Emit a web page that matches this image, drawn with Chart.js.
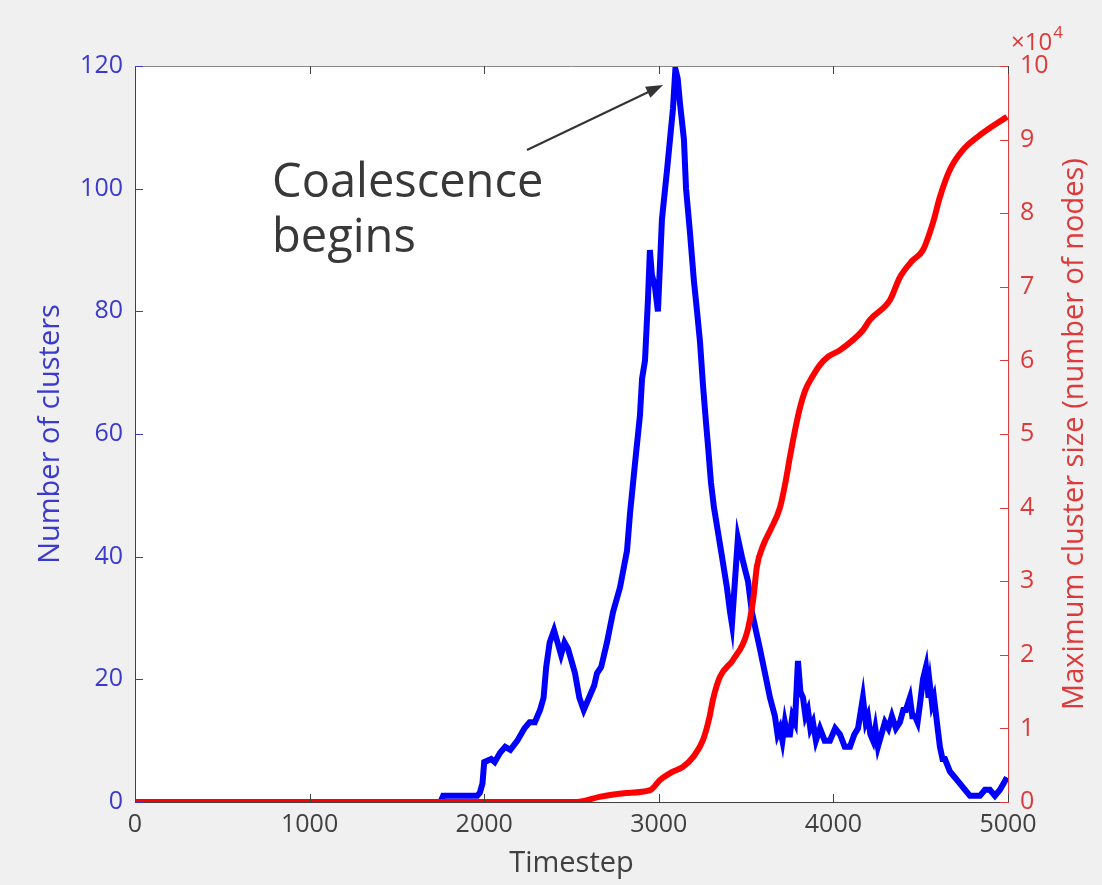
<!DOCTYPE html>
<html>
<head>
<meta charset="utf-8">
<script src="https://cdn.jsdelivr.net/npm/chart.js@4"></script>
<style>
  html, body { margin: 0; padding: 0; background: #f0f0f0; }
  #wrap { width: 1102px; height: 885px; }
</style>
</head>
<body>
<div id="wrap"><canvas id="grafico" width="1102" height="885"></canvas></div>
<script>
// numero de clusters (eje izquierdo)
const blueSteps = [0, 1750, 1765, 1960, 1975, 1990, 2000, 2040, 2060, 2090, 2120, 2150, 2190, 2230, 2260, 2290,
  2320, 2340, 2355, 2375, 2400, 2420, 2440, 2460, 2480, 2500, 2520, 2545, 2570, 2600, 2630, 2646, 2670, 2703,
  2738, 2778, 2818, 2835, 2863, 2892, 2904, 2921, 2938, 2949, 2960, 2978, 2995, 3018, 3047, 3064, 3081, 3095,
  3108, 3121, 3144, 3156, 3178, 3201, 3219, 3236, 3253, 3270, 3282, 3299, 3316, 3339, 3362, 3390, 3408, 3419,
  3436, 3453, 3476, 3493, 3511, 3533, 3556, 3579, 3608, 3637, 3665, 3680, 3694, 3708, 3722, 3736, 3751, 3765,
  3780, 3797, 3811, 3826, 3840, 3854, 3868, 3883, 3900, 3923, 3950, 3980, 4010, 4038, 4065, 4095, 4120, 4141,
  4169, 4185, 4198, 4212, 4227, 4240, 4255, 4275, 4295, 4315, 4335, 4358, 4381, 4400, 4415, 4438, 4452, 4467,
  4482, 4496, 4513, 4530, 4545, 4553, 4565, 4576, 4593, 4610, 4625, 4639, 4667, 4696, 4725, 4753, 4782, 4810,
  4839, 4868, 4896, 4925, 4954, 4994];
const blueClusters = [0, 0, 1, 1, 1.5, 3, 6.5, 7, 6.5, 8, 9, 8.5, 10, 12, 13, 13,
  15, 17, 22, 26, 28, 26, 24, 26, 25, 23, 21, 17, 15, 17, 19, 21, 22, 26,
  31, 35, 41, 47, 55, 63, 69, 72, 82, 90, 86, 84, 80, 95, 103, 108, 113, 119.5,
  118, 114, 108, 100, 93, 85, 80, 75, 68, 62, 58, 52, 48, 44, 40, 35, 31, 29,
  36, 43, 40, 38, 36, 31, 28, 25, 21, 17, 14, 11, 12, 10, 13, 11, 11, 14,
  13, 23, 18, 17, 14, 15, 12, 13, 10, 12, 10, 10, 12, 11, 9, 9, 11, 12,
  17, 13, 14, 11, 10, 12, 9, 11, 13, 12, 14, 12, 13, 15, 15, 17, 14, 14,
  13, 16, 20, 22, 17, 19, 16, 17, 13, 9, 7, 7, 5, 4, 3, 2, 1, 1,
  1, 2, 2, 1, 2, 4];

// tamano maximo de cluster (eje derecho, nodos)
const redSteps = [0, 2530, 2660, 2800, 2950, 3007, 3070, 3140, 3196, 3253, 3290, 3310, 3350, 3425, 3505, 3540,
  3562, 3600, 3640, 3694, 3722, 3752, 3780, 3810, 3840, 3880, 3920, 3970, 4038, 4169, 4209, 4324, 4381, 4450,
  4513, 4570, 4610, 4667, 4742, 4856, 4994];
const redSize = [0, 0, 700, 1200, 1600, 3000, 4000, 4800, 6100, 8400, 11500, 13900, 17000, 19300, 23000, 27400,
  32000, 35000, 37000, 40000, 43000, 47000, 50500, 53700, 56000, 57800, 59300, 60500, 61400, 64100, 65500, 68200, 71300, 73500,
  75000, 78700, 82200, 85900, 88600, 90900, 93100];

const xTicks = [0, 1000, 2000, 3000, 4000, 5000];
const leftTicks = [0, 20, 40, 60, 80, 100, 120];
const rightTicks = [0, 1, 2, 3, 4, 5, 6, 7, 8, 9, 10]; // x10^4

// anotacion (en unidades de datos)
const notaTexto = ['Coalescence', 'begins'];
const notaPos = { x: 785, y1: 98.6, y2: 89.7 };
const flecha = { x0: 2245, y0: 106.3, x1: 3024, y1: 116.9 };

const azul = '#0000ff';
const rojo = '#ff0000';
const azulTexto = '#3a3ad0';
const rojoTexto = '#dd3b3b';
const gris = '#404040';
const fuente = 'Open Sans';

const datosAzul = blueSteps.map((t, i) => ({ x: t, y: blueClusters[i] }));
const datosRojo = redSteps.map((t, i) => ({ x: t, y: redSize[i] }));

const decoracion = {
  id: 'decoracion',
  beforeDraw(chart) {
    const { ctx, chartArea: a } = chart;
    ctx.save();
    ctx.fillStyle = '#f0f0f0';
    ctx.fillRect(0, 0, chart.width, chart.height);
    ctx.fillStyle = '#ffffff';
    ctx.fillRect(a.left, a.top, a.right - a.left, a.bottom - a.top);
    ctx.restore();
  },
  afterDraw(chart) {
    const { ctx, chartArea: a, scales } = chart;
    const L = 8;
    ctx.save();
    // borde superior
    ctx.strokeStyle = '#888';
    ctx.lineWidth = 1;
    ctx.beginPath();
    ctx.moveTo(a.left, a.top + 0.5);
    ctx.lineTo(a.right, a.top + 0.5);
    ctx.stroke();
    // marcas hacia dentro
    ctx.strokeStyle = gris;
    ctx.beginPath();
    xTicks.forEach(v => {
      const px = Math.round(scales.x.getPixelForValue(v)) + 0.5;
      ctx.moveTo(px, a.bottom); ctx.lineTo(px, a.bottom - L);
      ctx.moveTo(px, a.top); ctx.lineTo(px, a.top + L);
    });
    ctx.stroke();
    ctx.strokeStyle = azulTexto;
    ctx.beginPath();
    leftTicks.forEach(v => {
      const py = Math.round(scales.y.getPixelForValue(v)) + 0.5;
      ctx.moveTo(a.left, py); ctx.lineTo(a.left + L, py);
    });
    ctx.stroke();
    ctx.strokeStyle = rojoTexto;
    ctx.beginPath();
    rightTicks.forEach(v => {
      const py = Math.round(scales.y2.getPixelForValue(v * 1e4)) + 0.5;
      ctx.moveTo(a.right, py); ctx.lineTo(a.right - L, py);
    });
    ctx.stroke();

    // titulo eje derecho (de abajo hacia arriba)
    ctx.fillStyle = rojoTexto;
    ctx.font = '29px "' + fuente + '"';
    ctx.textAlign = 'center';
    ctx.textBaseline = 'middle';
    ctx.translate(1075, (a.top + a.bottom) / 2);
    ctx.rotate(-Math.PI / 2);
    ctx.fillText('Maximum cluster size (number of nodes)', 0, 0);
    ctx.setTransform(1, 0, 0, 1, 0, 0);

    // exponente x10^4
    ctx.textAlign = 'left';
    ctx.textBaseline = 'alphabetic';
    ctx.font = '24px "' + fuente + '"';
    ctx.fillText('\u00d710', a.right + 3, a.top - 16);
    const w = ctx.measureText('\u00d710').width;
    ctx.font = '17px "' + fuente + '"';
    ctx.fillText('4', a.right + 4 + w, a.top - 28);

    // anotacion
    ctx.fillStyle = '#383838';
    ctx.font = '47px "' + fuente + '"';
    const tx = scales.x.getPixelForValue(notaPos.x);
    ctx.fillText(notaTexto[0], tx, scales.y.getPixelForValue(notaPos.y1));
    ctx.fillText(notaTexto[1], tx, scales.y.getPixelForValue(notaPos.y2));

    const x0 = scales.x.getPixelForValue(flecha.x0), y0 = scales.y.getPixelForValue(flecha.y0);
    const x1 = scales.x.getPixelForValue(flecha.x1), y1 = scales.y.getPixelForValue(flecha.y1);
    const ang = Math.atan2(y1 - y0, x1 - x0);
    const cabeza = 18;
    ctx.strokeStyle = '#333';
    ctx.fillStyle = '#333';
    ctx.lineWidth = 2;
    ctx.beginPath();
    ctx.moveTo(x0, y0);
    ctx.lineTo(x1 - cabeza * 0.8 * Math.cos(ang), y1 - cabeza * 0.8 * Math.sin(ang));
    ctx.stroke();
    ctx.beginPath();
    ctx.moveTo(x1, y1);
    ctx.lineTo(x1 - cabeza * Math.cos(ang - 0.35), y1 - cabeza * Math.sin(ang - 0.35));
    ctx.lineTo(x1 - cabeza * Math.cos(ang + 0.35), y1 - cabeza * Math.sin(ang + 0.35));
    ctx.closePath();
    ctx.fill();
    ctx.restore();
  }
};

const ctx = document.getElementById('grafico').getContext('2d');
const grafico = new Chart(ctx, {
  type: 'line',
  data: {
    datasets: [
      {
        label: 'Number of clusters',
        data: datosAzul,
        yAxisID: 'y',
        order: 2,
        borderColor: azul,
        backgroundColor: azul,
        borderWidth: 6,
        pointRadius: 0,
        tension: 0
      },
      {
        label: 'Maximum cluster size',
        data: datosRojo,
        yAxisID: 'y2',
        order: 1,
        borderColor: rojo,
        backgroundColor: rojo,
        borderWidth: 6,
        pointRadius: 0,
        cubicInterpolationMode: 'monotone'
      }
    ]
  },
  options: {
    responsive: false,
    animation: false,
    layout: { padding: { top: 66, left: 0, right: 0, bottom: 0 } },
    plugins: { legend: { display: false }, tooltip: { enabled: false } },
    scales: {
      x: {
        type: 'linear',
        min: 0, max: 5000,
        afterFit: s => { s.height = 83; },
        afterBuildTicks: s => { s.ticks = xTicks.map(v => ({ value: v })); },
        grid: { display: false, drawTicks: false },
        border: { color: gris, width: 1 },
        ticks: { color: gris, font: { family: fuente, size: 25 }, padding: 8, maxRotation: 0, callback: v => String(v) },
        title: { display: true, text: 'Timestep', color: gris, font: { family: fuente, size: 29 }, padding: { bottom: 4, top: 0 } }
      },
      y: {
        position: 'left',
        min: 0, max: 120,
        afterFit: s => { s.width = 135; },
        afterBuildTicks: s => { s.ticks = leftTicks.map(v => ({ value: v })); },
        grid: { display: false, drawTicks: false },
        border: { color: gris, width: 1 },
        ticks: { color: azulTexto, font: { family: fuente, size: 25 }, padding: 12 },
        title: { display: true, text: 'Number of clusters', color: azulTexto, font: { family: fuente, size: 29 }, padding: { top: 33 } }
      },
      y2: {
        position: 'right',
        min: 0, max: 100000,
        afterFit: s => { s.width = 94; },
        afterBuildTicks: s => { s.ticks = rightTicks.map(v => ({ value: v * 1e4 })); },
        grid: { display: false, drawTicks: false },
        border: { color: rojoTexto, width: 1 },
        ticks: { color: rojoTexto, font: { family: fuente, size: 25 }, padding: 12, callback: v => v / 1e4 }
      }
    }
  },
  plugins: [decoracion]
});
</script>
</body>
</html>
